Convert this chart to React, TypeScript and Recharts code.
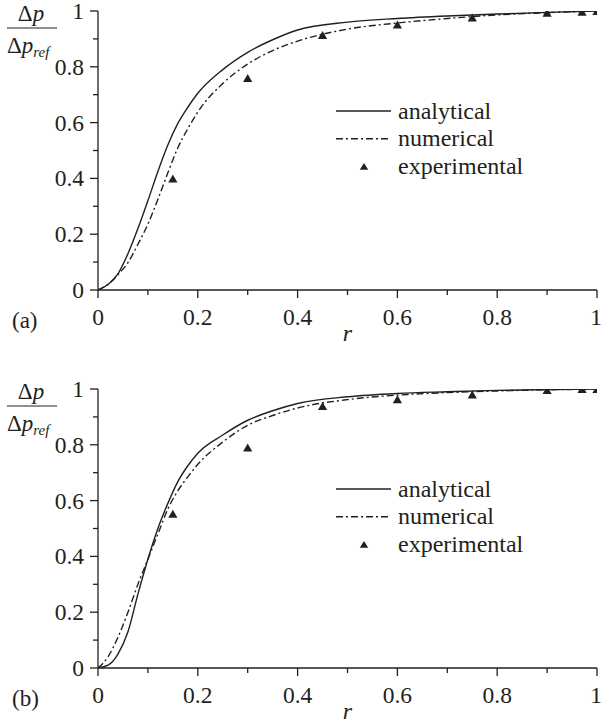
import { ComposedChart, Legend, Line, Scatter, XAxis, YAxis } from "recharts";

const INK = "#231f20";
const FONT = '"Liberation Serif", "Times New Roman", serif';
const DASHDOT = "7 3 2 3";

const rCurve = [
  0, 0.02, 0.04, 0.06, 0.08, 0.1, 0.12, 0.14, 0.16, 0.18, 0.2, 0.25, 0.3, 0.35,
  0.4, 0.5, 0.6, 0.7, 0.8, 0.9, 1,
];

// panel (a)
const analyticalA = [
  0, 0.02, 0.058, 0.13, 0.22, 0.32, 0.425, 0.52, 0.597, 0.655, 0.705, 0.79,
  0.852, 0.897, 0.932, 0.96, 0.973, 0.982, 0.989, 0.995, 1,
];
const numericalA = [
  0, 0.02, 0.055, 0.098, 0.164, 0.236, 0.325, 0.42, 0.51, 0.578, 0.638, 0.74,
  0.81, 0.858, 0.892, 0.935, 0.957, 0.973, 0.986, 0.994, 1,
];

// panel (b)
const analyticalB = [
  0, 0.01, 0.05, 0.13, 0.265, 0.39, 0.5, 0.59, 0.668, 0.725, 0.77, 0.835,
  0.888, 0.922, 0.948, 0.972, 0.984, 0.99, 0.995, 0.998, 1,
];
const numericalB = [
  0, 0.04, 0.11, 0.2, 0.3, 0.39, 0.48, 0.57, 0.635, 0.685, 0.73, 0.81, 0.87,
  0.905, 0.932, 0.962, 0.978, 0.987, 0.993, 0.997, 1,
];

// measurements
const rExp = [0.15, 0.3, 0.45, 0.6, 0.75, 0.9, 0.97, 1];
const experimentalA = [0.4, 0.76, 0.914, 0.952, 0.977, 0.994, 0.997, 1];
const experimentalB = [0.553, 0.79, 0.939, 0.963, 0.98, 0.996, 1, 1];

const ticks = [0, 0.1, 0.2, 0.3, 0.4, 0.5, 0.6, 0.7, 0.8, 0.9, 1];

const legendItems = ["analytical", "numerical", "experimental"];

type Pt = { x: number; y: number };
const pts = (xs: number[], ys: number[]): Pt[] =>
  xs.map((x, i) => ({ x, y: ys[i] }));

const isMajor = (v: number) => Math.round(v * 10) % 2 === 0;
const fmt = (v: number) => String(Math.round(v * 10) / 10);

function XTick({ x, y, payload }: any) {
  const v = payload.value as number;
  const major = isMajor(v);
  return (
    <g>
      <line x1={x} y1={y} x2={x} y2={y + (major ? 8 : 5)} stroke={INK} strokeWidth={1.3} />
      {major && (
        <text
          x={v === 1 ? x - 1 : x}
          y={y + 35}
          textAnchor="middle"
          fontSize={23.5}
          fill={INK}
          fontFamily={FONT}
        >
          {fmt(v)}
        </text>
      )}
    </g>
  );
}

function YTick({ x, y, payload }: any) {
  const v = payload.value as number;
  const major = isMajor(v);
  return (
    <g>
      <line x1={x} y1={y} x2={x - (major ? 8 : 5)} y2={y} stroke={INK} strokeWidth={1.3} />
      {major && (
        <text x={x - 14} y={y + 8} textAnchor="end" fontSize={23.5} fill={INK} fontFamily={FONT}>
          {fmt(v)}
        </text>
      )}
    </g>
  );
}

function Triangle({ cx, cy }: any) {
  if (cx == null || cy == null) return null;
  return (
    <polygon
      points={`${cx},${cy - 4} ${cx - 4.6},${cy + 4} ${cx + 4.6},${cy + 4}`}
      fill={INK}
    />
  );
}

function LegendBox() {
  const rowY = [14, 41.7, 69.4];
  return (
    <svg width={260} height={84} style={{ display: "block" }}>
      <line x1={0} x2={55} y1={rowY[0]} y2={rowY[0]} stroke={INK} strokeWidth={1.4} />
      <line
        x1={0}
        x2={55}
        y1={rowY[1]}
        y2={rowY[1]}
        stroke={INK}
        strokeWidth={1.4}
        strokeDasharray={DASHDOT}
      />
      <polygon
        points={`28,${rowY[2] - 3.4} 23.8,${rowY[2] + 3.4} 32.2,${rowY[2] + 3.4}`}
        fill={INK}
      />
      {legendItems.map((name, i) => (
        <text key={name} x={62} y={rowY[i] + 7.5} fontSize={24} fill={INK} fontFamily={FONT}>
          {name}
        </text>
      ))}
    </svg>
  );
}

function Panel({
  top,
  height,
  plotTop,
  tag,
  analytical,
  numerical,
  experimental,
}: {
  top: number;
  height: number;
  plotTop: number;
  tag: string;
  analytical: number[];
  numerical: number[];
  experimental: number[];
}) {
  // plot area is 279px tall; the rest below it is the x axis band
  const axisHeight = height - plotTop - 279;
  const dy = plotTop - 11;
  return (
    <div style={{ position: "absolute", left: 0, top, width: 601, height }}>
      <ComposedChart
        width={601}
        height={height}
        margin={{ top: plotTop, right: 4, left: 0, bottom: 0 }}
      >
        <XAxis
          dataKey="x"
          type="number"
          domain={[0, 1]}
          allowDataOverflow
          ticks={ticks}
          interval={0}
          height={axisHeight}
          tickSize={0}
          tickMargin={0}
          tickLine={false}
          tick={XTick}
          axisLine={{ stroke: INK, strokeWidth: 1.3 }}
          label={{
            value: "r",
            position: "insideBottom",
            offset: axisHeight - 51,
            fontSize: 24,
            fontStyle: "italic",
            fill: INK,
            fontFamily: FONT,
          }}
        />
        <YAxis
          dataKey="y"
          type="number"
          domain={[0, 1]}
          allowDataOverflow
          ticks={ticks}
          interval={0}
          width={98}
          tickSize={0}
          tickMargin={0}
          tickLine={false}
          tick={YTick}
          axisLine={{ stroke: INK, strokeWidth: 1.3 }}
        />
        <Legend
          layout="horizontal"
          verticalAlign="middle"
          align="center"
          content={() => <LegendBox />}
          wrapperStyle={{ left: 336, top: 97 + dy, width: 260, height: 84 }}
        />
        <Line
          data={pts(rCurve, analytical)}
          dataKey="y"
          name="analytical"
          type="monotone"
          stroke={INK}
          strokeWidth={1.4}
          dot={false}
          isAnimationActive={false}
        />
        <Line
          data={pts(rCurve, numerical)}
          dataKey="y"
          name="numerical"
          type="monotone"
          stroke={INK}
          strokeWidth={1.4}
          strokeDasharray={DASHDOT}
          dot={false}
          isAnimationActive={false}
        />
        <Scatter
          data={pts(rExp, experimental)}
          dataKey="y"
          name="experimental"
          fill={INK}
          shape={Triangle}
          isAnimationActive={false}
        />
      </ComposedChart>
      <svg
        width={601}
        height={height}
        style={{ position: "absolute", left: 0, top: 0, pointerEvents: "none" }}
        fontFamily={FONT}
        fill={INK}
      >
        <g transform={`translate(0, ${dy})`}>
          <text x={31} y={21} textAnchor="middle" fontSize={23}>
            Δ<tspan fontStyle="italic">p</tspan>
          </text>
          <line x1={7} x2={57} y1={28} y2={28} stroke={INK} strokeWidth={1.2} />
          <text x={7} y={53} fontSize={23}>
            Δ<tspan fontStyle="italic">p</tspan>
            <tspan fontStyle="italic" fontSize={15} dy={4}>
              ref
            </tspan>
          </text>
          <text x={12} y={328} fontSize={23}>
            {tag}
          </text>
        </g>
      </svg>
    </div>
  );
}

export default function App() {
  return (
    <div
      style={{
        position: "absolute",
        left: 0,
        top: 0,
        width: 601,
        height: 721,
        overflow: "hidden",
        background: "#fff",
        fontFamily: FONT,
      }}
    >
      <Panel
        top={0}
        height={360}
        plotTop={11}
        tag="(a)"
        analytical={analyticalA}
        numerical={numericalA}
        experimental={experimentalA}
      />
      <Panel
        top={360}
        height={361}
        plotTop={29}
        tag="(b)"
        analytical={analyticalB}
        numerical={numericalB}
        experimental={experimentalB}
      />
    </div>
  );
}
